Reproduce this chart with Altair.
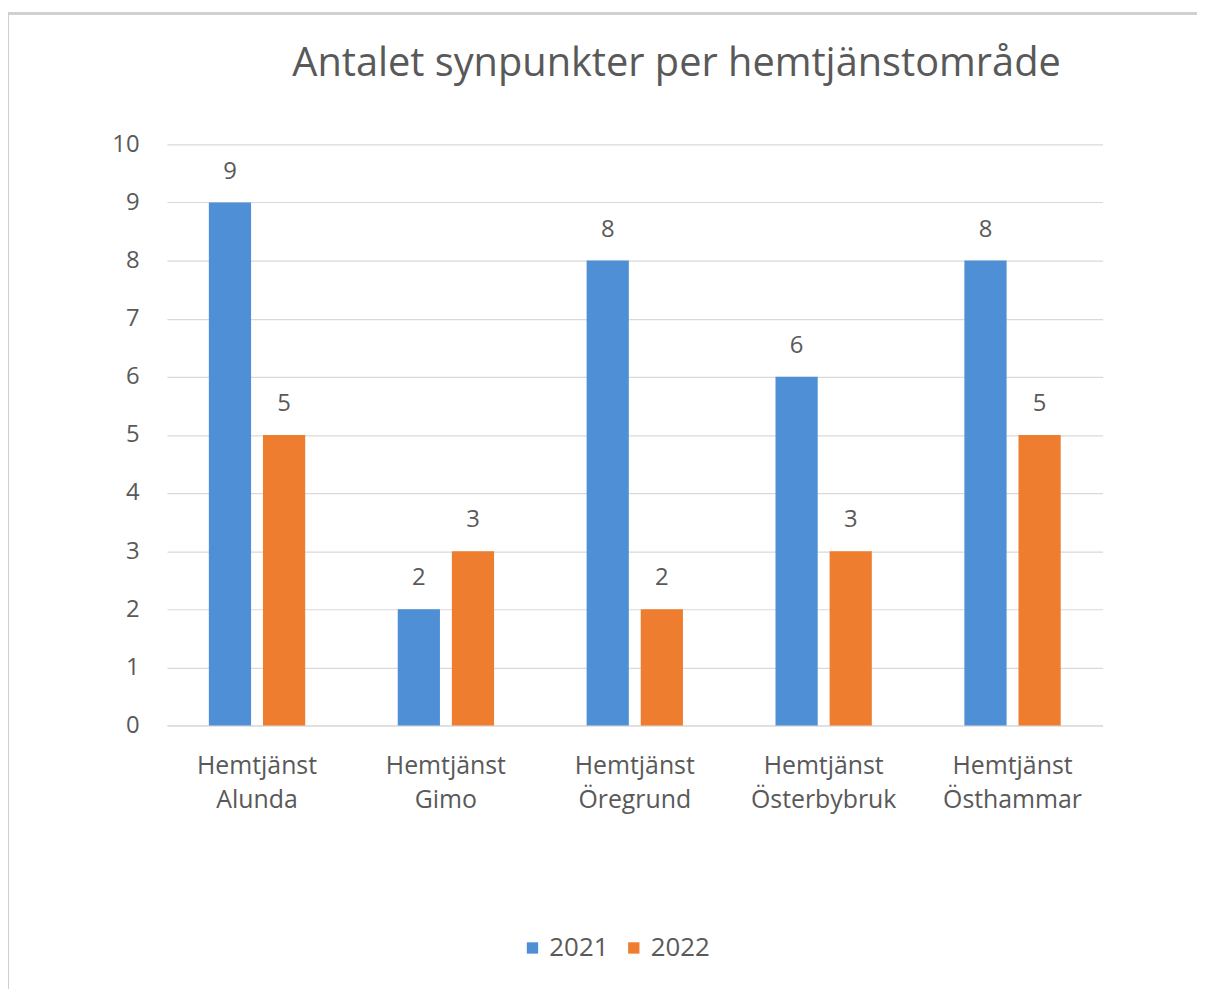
import altair as alt
import pandas as pd

categories = ["Hemtjänst Alunda", "Hemtjänst Gimo", "Hemtjänst Öregrund",
              "Hemtjänst Österbybruk", "Hemtjänst Östhammar"]
values_2021 = [9, 2, 8, 6, 8]
values_2022 = [5, 3, 2, 3, 5]
years = ["2021", "2022"]
colors = ["#4E8FD6", "#EE7D2F"]

rows = []
for c, a, b in zip(categories, values_2021, values_2022):
    rows.append({"omr": c, "year": "2021", "value": a})
    rows.append({"omr": c, "year": "2022", "value": b})
df = pd.DataFrame(rows)

FONT = "Open Sans"
GRAY = "#595959"

x = alt.X("omr:N", sort=categories,
          scale=alt.Scale(paddingInner=0.49, paddingOuter=0.222),
          axis=alt.Axis(title=None, labelAngle=0, labelFontSize=25, labelColor=GRAY,
                        labelFont=FONT, labelPadding=28, labelLineHeight=35,
                        labelExpr="split(datum.label, ' ')", ticks=False,
                        domainColor="#D9D9D9", labelBaseline="top"))
xo = alt.XOffset("year:N", scale=alt.Scale(paddingInner=0.22, paddingOuter=0))
y = alt.Y("value:Q", scale=alt.Scale(domain=[0, 10]),
          axis=alt.Axis(title=None, values=list(range(0, 11)), labelFontSize=24,
                        labelColor=GRAY, labelFont=FONT, labelPadding=28, ticks=False,
                        domain=False, gridColor="#D9D9D9", gridWidth=1.2))
color = alt.Color("year:N", scale=alt.Scale(domain=years, range=colors),
                  legend=alt.Legend(title=None, orient="none", direction="horizontal",
                                    legendX=355, legendY=796, symbolType="square",
                                    symbolSize=130, symbolStrokeWidth=0,
                                    labelFontSize=26, labelColor=GRAY, labelFont=FONT,
                                    columnPadding=12, labelOffset=4))

bars = alt.Chart(df).mark_bar().encode(x=x, xOffset=xo, y=y, color=color)
labels = alt.Chart(df).mark_text(dy=-31, fontSize=24, color=GRAY, font=FONT).encode(
    x=x, xOffset=xo, y=y, text="value:Q")

border = alt.Chart(df).mark_rect(fill=None, stroke="#CFCFCF", strokeWidth=2).encode(
    x=alt.value(-160), x2=alt.value(1100), y=alt.value(-132), y2=alt.value(900))

chart = alt.layer(border, bars, labels).properties(
    width=942, height=585,
    title=alt.TitleParams("Antalet synpunkter per hemtjänstområde", fontSize=40,
                          font=FONT, fontWeight="normal", color=GRAY, anchor="middle",
                          baseline="alphabetic", dx=42, offset=-104),
    autosize=alt.AutoSizeParams(type="none"),
    padding={"left": 160, "top": 134, "right": 95, "bottom": 262},
).configure_view(stroke=None)

chart.save("out.html", embed_options={"renderer": "svg", "actions": False})
